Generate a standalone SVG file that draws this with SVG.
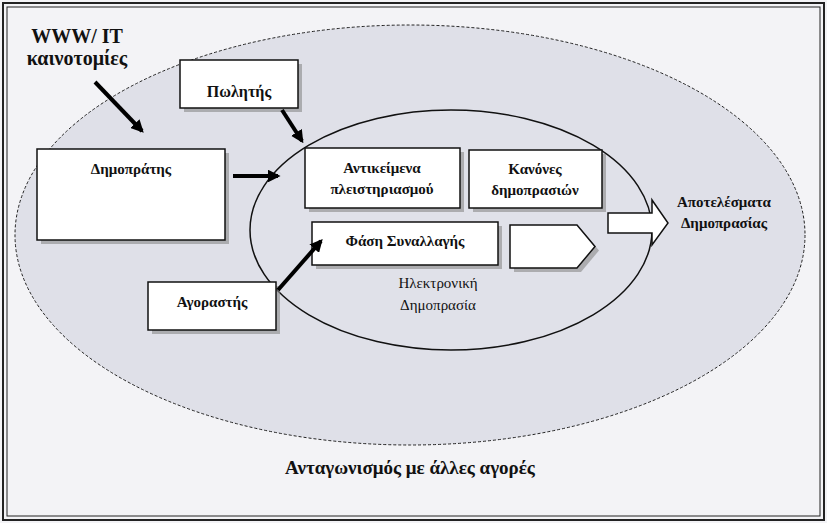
<svg xmlns="http://www.w3.org/2000/svg" width="827" height="523" viewBox="0 0 827 523">
<style>
.box{fill:#fff;stroke:#111;stroke-width:1.5}
.sh{fill:#888;opacity:.6}
.t{font-family:"Liberation Serif","Times New Roman",serif;font-size:15px;fill:#111;text-anchor:middle}
.b{font-weight:bold}
.big{font-size:20px}
.mid{font-size:19px}
.arr{stroke:#000;stroke-width:4;fill:none;marker-end:url(#ah)}
</style>
<defs>
<marker id="ah" viewBox="0 0 10 10" refX="8" refY="5" markerWidth="3.2" markerHeight="3.2" orient="auto" markerUnits="strokeWidth"><path d="M0,0L10,5L0,10z" fill="#000"/></marker>
</defs>
<rect x="0" y="0" width="827" height="523" fill="#f3f3f6"/>
<rect x="3" y="3" width="821" height="517" fill="none" stroke="#222" stroke-width="2"/>
<rect x="7" y="7" width="813" height="509" fill="none" stroke="#222" stroke-width="1"/>
<ellipse id="market" cx="410" cy="235" rx="395" ry="210" fill="#dfe0e8" stroke="#222" stroke-width="1" stroke-dasharray="3,2"/>
<ellipse id="eauction" cx="451" cy="230" rx="201" ry="120" fill="#e0e1e9" stroke="#111" stroke-width="1.5"/>
<text class="t" x="438" y="288">Ηλεκτρονική</text>
<text class="t" x="438" y="310">Δημοπρασία</text>
<text class="t b big" x="77" y="43">WWW/ IT</text>
<text class="t b big" x="77" y="65">καινοτομίες</text>
<text class="t b mid" x="410" y="474">Ανταγωνισμός με άλλες αγορές</text>
<g id="seller"><rect class="sh" x="184" y="64" width="118" height="48"/><rect class="box" x="180" y="60" width="118" height="48"/><text class="t b" x="239" y="97" style="font-size:16px">Πωλητής</text></g>
<g id="auctioneer"><rect class="sh" x="41" y="153" width="188" height="91"/><rect class="box" x="37" y="149" width="188" height="91"/><text class="t b" x="131" y="174">Δημοπράτης</text></g>
<g id="buyer"><rect class="sh" x="152" y="286" width="128" height="48"/><rect class="box" x="148" y="282" width="128" height="48"/><text class="t b" x="212" y="307">Αγοραστής</text></g>
<g id="items"><rect class="sh" x="309" y="152" width="155" height="60"/><rect class="box" x="305" y="148" width="155" height="60"/><text class="t b" x="382" y="173">Αντικείμενα</text><text class="t b" x="382" y="194">πλειστηριασμού</text></g>
<g id="rules"><rect class="sh" x="473" y="154" width="133" height="58"/><rect class="box" x="469" y="150" width="133" height="58"/><text class="t b" x="535" y="174">Κανόνες</text><text class="t b" x="535" y="195">δημοπρασιών</text></g>
<g id="phase"><rect class="sh" x="316" y="226" width="186" height="43"/><rect class="box" x="312" y="222" width="186" height="43"/><text class="t b" x="405" y="246">Φάση Συναλλαγής</text></g>
<g id="pent"><path class="sh" d="M514,229H581L599,250.5L581,272H514Z"/><path class="box" d="M510,225H577L595,246.5L577,268H510Z"/></g>
<g id="results"><path d="M608,213H652V200L668,223L652,245V233H608Z" fill="#fff" stroke="#111" stroke-width="1.5"/><text class="t b" x="724" y="207">Αποτελέσματα</text><text class="t b" x="724" y="228">Δημοπρασίας</text></g>
<g id="connectors">
<line class="arr" x1="95" y1="82" x2="142" y2="131"/>
<line class="arr" x1="282" y1="110" x2="302" y2="141"/>
<line class="arr" x1="233" y1="176" x2="278" y2="176"/>
<line class="arr" x1="278" y1="290" x2="321" y2="241"/>
</g>
</svg>
